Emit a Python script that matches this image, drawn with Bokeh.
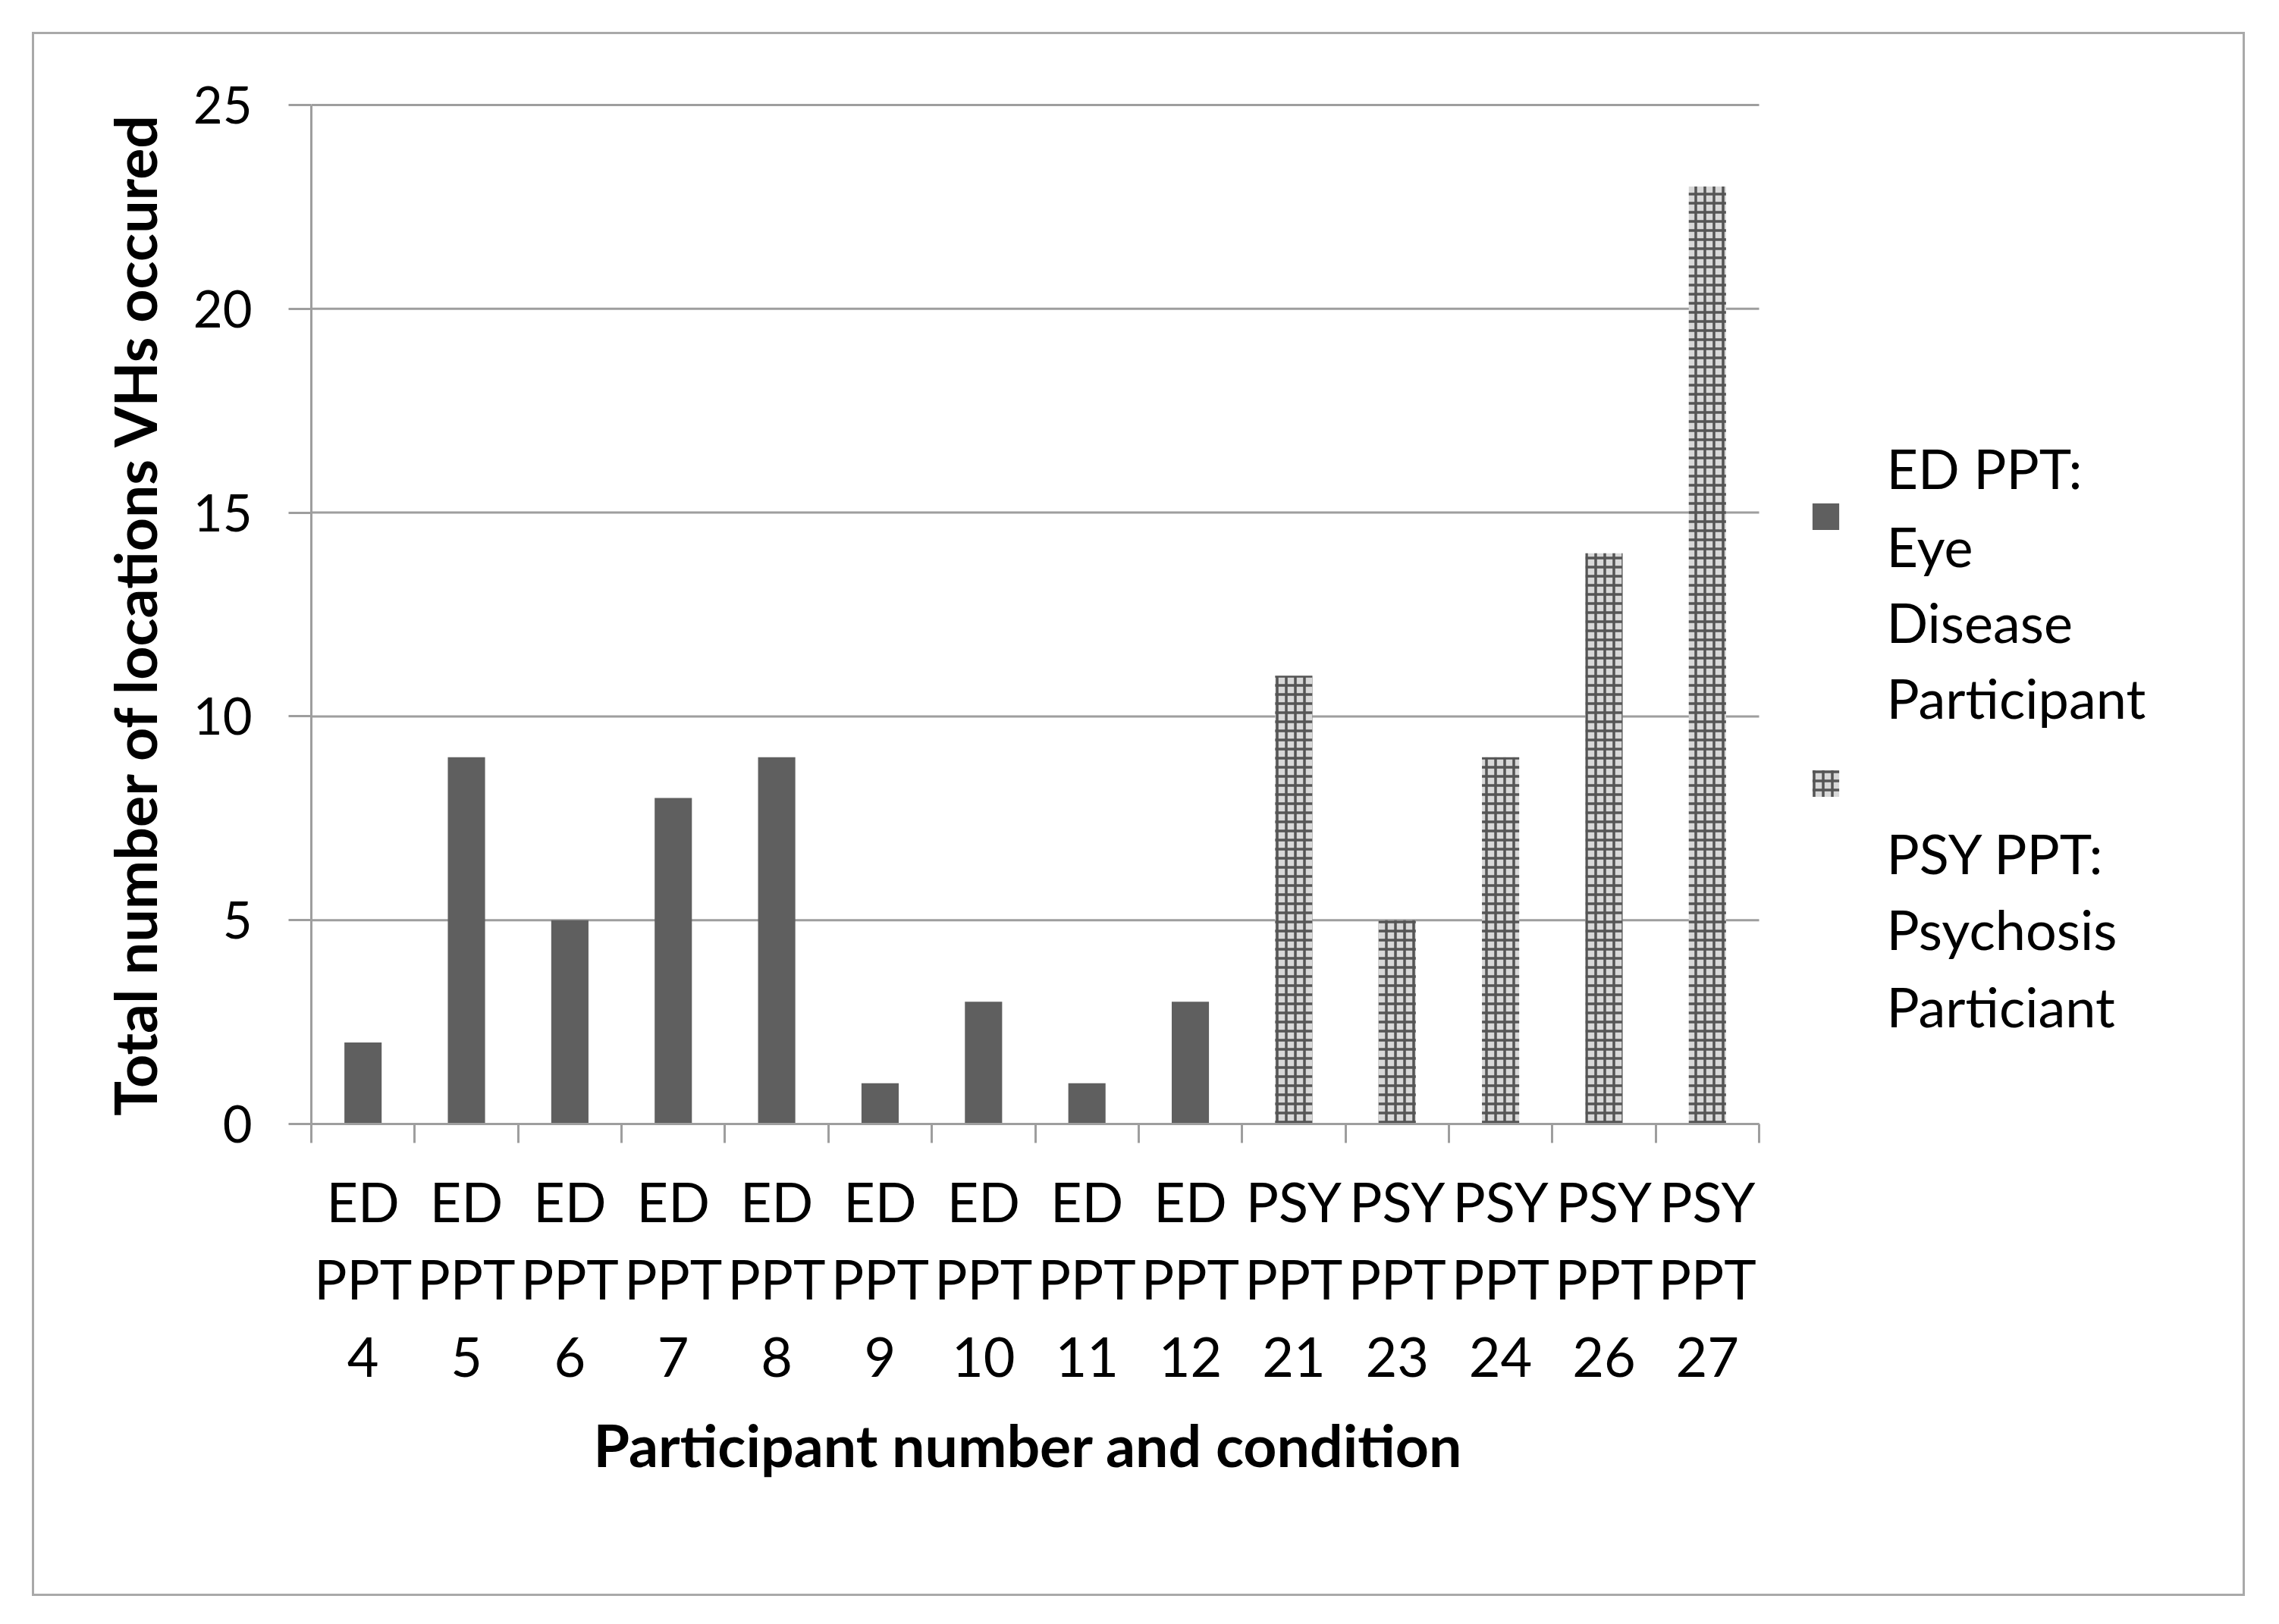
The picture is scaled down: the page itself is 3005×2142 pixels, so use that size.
import numpy as np
from bokeh.plotting import figure
from bokeh.models import (Range1d, LinearAxis, FixedTicker, ColumnDataSource, Legend,
                          LegendItem, Label, Title)
from bokeh.embed import file_html
from bokeh.resources import INLINE

# ---------------- data ----------------
ed_ids = [4, 5, 6, 7, 8, 9, 10, 11, 12]
ed_vals = [2, 9, 5, 8, 9, 1, 3, 1, 3]
psy_ids = [21, 23, 24, 26, 27]
psy_vals = [11, 5, 9, 14, 23]
y_ticks = [0, 5, 10, 15, 20, 25]
ed_legend_lines = ["ED PPT:", "Eye", "Disease", "Participant"]
psy_legend_lines = ["PSY PPT:", "Psychosis", "Particiant"]
x_title = "Participant number and condition"
y_title = "Total number of locations VHs occured"

ed_labels = [f"ED\nPPT\n{n}" for n in ed_ids]
psy_labels = [f"PSY\nPPT\n{n}" for n in psy_ids]
tick_labels = ed_labels + psy_labels
n_cat = len(tick_labels)
centers = [float(c) for c in np.arange(n_cat) + 0.5]
edges = [float(e) for e in np.arange(n_cat + 1)]
ed_x = centers[:len(ed_ids)]
psy_x = centers[len(ed_ids):]

FONT = "Lato"
GRAY = "#9e9e9e"
DARK = "#5f5f5f"

# ---------------- layout (pixels) ----------------
W, H = 2918, 2063
LEFT, RIGHT, TOP, BOTTOM = 365, 2878, 90, 1437     # frame box inside the canvas
PLOT_W, PLOT_H = 1909, 1344                        # chart area (categories / 0..25)
x_end = n_cat * (RIGHT - LEFT) / PLOT_W            # frame also holds the legend area
y_end = y_ticks[-1] * (BOTTOM - TOP) / PLOT_H

p = figure(width=W, height=H, x_range=Range1d(0, x_end), y_range=Range1d(0, y_end),
           output_backend="svg", toolbar_location=None,
           x_axis_location=None, y_axis_location=None,
           min_border_left=LEFT, min_border_right=W - RIGHT,
           min_border_top=TOP, min_border_bottom=H - BOTTOM)
p.margin = (42, 0, 0, 42)
p.styles = {"border": "3px solid #a9a9a9"}
p.outline_line_color = None
p.background_fill_color = "white"
p.border_fill_color = "white"
p.xgrid.visible = False
p.ygrid.visible = False

# y axis
yax = LinearAxis(ticker=FixedTicker(ticks=y_ticks), axis_label=y_title,
                 bounds=(y_ticks[0], y_ticks[-1]))
yax.axis_line_color = GRAY
yax.axis_line_width = 3
yax.major_tick_line_color = GRAY
yax.major_tick_line_width = 3
yax.major_tick_out = 30
yax.major_tick_in = 0
yax.minor_tick_line_color = None
yax.major_label_standoff = 48
yax.major_label_text_font = FONT
yax.major_label_text_font_size = "67px"
yax.major_label_text_color = "black"
yax.axis_label_text_font = FONT
yax.axis_label_text_font_style = "bold"
yax.axis_label_text_font_size = "77px"
yax.axis_label_text_color = "black"
yax.axis_label_standoff = 29
p.add_layout(yax, "left")

# horizontal grid lines across the chart area only
p.segment(x0=[edges[0]] * len(y_ticks), x1=[edges[-1]] * len(y_ticks),
          y0=y_ticks, y1=y_ticks, line_color=GRAY, line_width=3)

# x axis: labels at category centres, tick marks at category boundaries
xax = LinearAxis(ticker=FixedTicker(ticks=centers, minor_ticks=edges),
                 bounds=(edges[0], edges[-1]),
                 major_label_overrides={c: t for c, t in zip(centers, tick_labels)})
xax.axis_line_color = GRAY
xax.axis_line_width = 3
xax.major_tick_line_color = None
xax.minor_tick_line_color = GRAY
xax.minor_tick_line_width = 3
xax.minor_tick_out = 25
xax.minor_tick_in = 0
xax.major_tick_out = 25
xax.major_tick_in = 0
xax.major_label_orientation = "horizontal"
xax.major_label_standoff = 33
xax.major_label_text_font = FONT
xax.major_label_text_font_size = "72px"
xax.major_label_text_line_height = 1.19
xax.major_label_text_color = "black"
p.add_layout(xax, "below")

# x axis title, centred under the chart area (not the legend area)
p.add_layout(Title(text=x_title, align="left", offset=372, standoff=45,
                   text_font=FONT, text_font_style="bold", text_font_size="77px",
                   text_color="black"), "below")

# bars
src_ed = ColumnDataSource(dict(x=ed_x, top=ed_vals))
src_psy = ColumnDataSource(dict(x=psy_x, top=psy_vals))
r_ed = p.vbar(x="x", top="top", width=0.36, source=src_ed, fill_color=DARK, line_color=None)
r_psy = p.vbar(x="x", top="top", width=0.36, source=src_psy, fill_color="#d8d8d8",
               line_color=None, hatch_pattern="+", hatch_color="#555555",
               hatch_scale=12, hatch_weight=3.5)

# legend swatches
legend = Legend(items=[LegendItem(label=" ", renderers=[r_ed]),
                       LegendItem(label=" ", renderers=[r_psy])],
                location=(1975, 427), glyph_width=44, glyph_height=44,
                spacing=308, padding=0, margin=0, border_line_color=None,
                background_fill_alpha=0, label_standoff=0,
                label_text_font=FONT, label_text_font_size="30px")
p.add_layout(legend)

# legend texts
for txt, y in zip(ed_legend_lines + psy_legend_lines, [866, 763, 663, 563, 358, 258, 156]):
    p.add_layout(Label(x=2077, y=y, x_units="screen", y_units="screen", text=txt,
                       text_font=FONT, text_font_size="72px", text_color="black",
                       text_align="left", text_baseline="alphabetic"))

open("out.html", "w").write(file_html(p, INLINE))
